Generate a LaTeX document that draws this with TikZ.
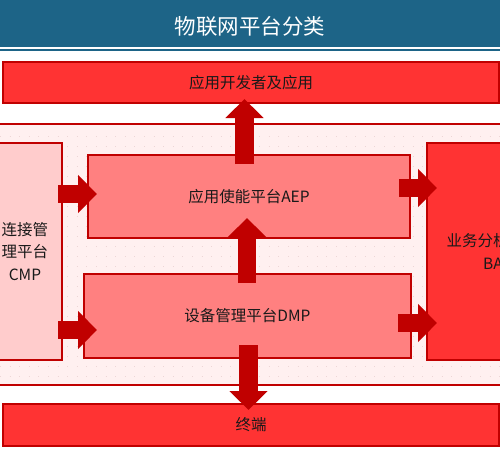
\documentclass[tikz,border=0pt]{standalone}
\usepackage{fontspec}
\setmainfont{Noto Sans CJK SC}
\usetikzlibrary{arrows.meta}
\definecolor{titleblue}{HTML}{1D6487}
\definecolor{darkred}{HTML}{C00000}
\definecolor{brightred}{HTML}{FF3333}
\definecolor{midred}{HTML}{FF8080}
\definecolor{lightred}{HTML}{FFCCCC}
\definecolor{bandpink}{HTML}{FFF0F0}
\definecolor{dotpink}{HTML}{EDD6D6}
\begin{document}
\begin{tikzpicture}[x=1pt,y=-1pt,
  box/.style={draw=darkred, line width=1.6pt, inner sep=0pt, align=center,
    text=black!90, font=\fontsize{15.5}{22.5}\selectfont},
  blockarrow/.style={draw=darkred, line width=18.5pt,
    -{Triangle[width=37pt,length=19pt]}}]
\useasboundingbox (0,0) rectangle (500,452);
\clip (0,0) rectangle (500,452);
% title
\fill[titleblue] (0,0) rectangle (500,47.5);
\fill[titleblue] (0,49.2) rectangle (500,50.6);
\node[text=white, font=\fontsize{21.5}{24}\selectfont] (title) at (250,26) {物联网平台分类};
% band
\draw[fill=bandpink, draw=darkred, line width=1.6pt] (-5,124) rectangle (505,385);
\foreach \yy in {136,146,...,380} {
  \draw[dotpink, line width=0.6pt, dash pattern=on 0.6pt off 9pt] (0,\yy) -- (500,\yy);
}
% boxes
\node[box, fill=brightred, minimum width=496pt, minimum height=41pt] (apps) at (251,82.5) {应用开发者及应用};
\node[box, fill=lightred, minimum width=74pt, minimum height=217pt] (cmp) at (25,251.5) {连接管\\理平台\\CMP};
\node[box, fill=brightred, minimum width=132pt, minimum height=217pt] (ba) at (493,251.5) {业务分析平台\\BA};
\node[box, fill=midred, minimum width=322pt, minimum height=83pt] (aep) at (249,196.5) {应用使能平台AEP};
\node[box, fill=midred, minimum width=327pt, minimum height=84pt] (dmp) at (247.5,316) {设备管理平台DMP};
\node[box, fill=brightred, minimum width=496pt, minimum height=42pt] (term) at (251,425) {终端};
% arrow end points
\coordinate (l1s) at (58,194);   \coordinate (l1e) at (97,194);
\coordinate (l2s) at (58,330);   \coordinate (l2e) at (97,330);
\coordinate (r1s) at (399,188);  \coordinate (r1e) at (437,188);
\coordinate (r2s) at (398,323);  \coordinate (r2e) at (437,323);
\coordinate (u1s) at (244.5,164); \coordinate (u1e) at (244.5,99);
\coordinate (u2s) at (247,283);  \coordinate (u2e) at (247,218);
\coordinate (d1s) at (248.5,345); \coordinate (d1e) at (248.5,410);
\draw[blockarrow] (l1s) -- (l1e);
\draw[blockarrow] (l2s) -- (l2e);
\draw[blockarrow] (r1s) -- (r1e);
\draw[blockarrow] (r2s) -- (r2e);
\draw[blockarrow] (u1s) -- (u1e);
\draw[blockarrow] (u2s) -- (u2e);
\draw[blockarrow] (d1s) -- (d1e);
\end{tikzpicture}
\end{document}
